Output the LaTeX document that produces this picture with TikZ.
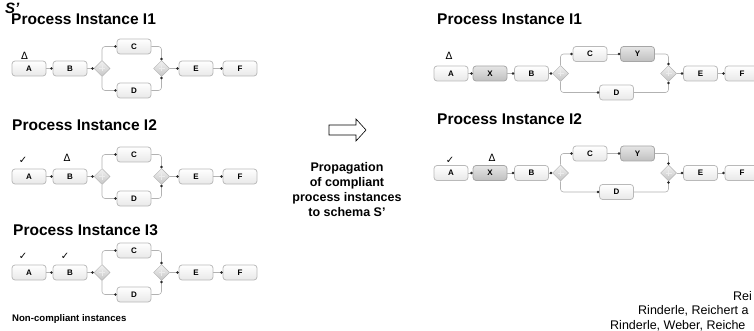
\documentclass[tikz,border=0pt]{standalone}
\usepackage{fontspec}
\setmainfont{Liberation Sans}
\newfontfamily\symfont{DejaVu Sans}
\usetikzlibrary{shapes.geometric,arrows.meta}
\tikzset{
  box/.style={draw=gray!55, rounded corners=3pt, minimum width=34pt, minimum height=15pt,
    inner sep=0pt, top color=white, bottom color=gray!18, line width=0.75pt,
    font=\bfseries\fontsize{8}{8}\selectfont},
  newbox/.style={box, top color=gray!20, bottom color=gray!50, draw=gray!70},
  gate/.style={diamond, draw=gray!60, minimum width=16pt, minimum height=16pt, inner sep=0pt,
    top color=gray!10, bottom color=gray!45, line width=0.5pt,
    path picture={\draw[gray!15, line width=0.9pt]
      ([xshift=-3pt]path picture bounding box.center) -- ([xshift=3pt]path picture bounding box.center)
      ([yshift=-3pt]path picture bounding box.center) -- ([yshift=3pt]path picture bounding box.center);}},
  conn/.style={draw=gray!60, line width=0.6pt, rounded corners=3pt,
    -{Circle[length=2.4pt, color=gray!30!black]}},
  title/.style={anchor=base west, inner sep=0pt, font=\bfseries\fontsize{15.5}{18}\selectfont},
  mk/.style={inner sep=0pt, font=\symfont\fontsize{10}{10}\selectfont},
  leftproc/.pic={
    \node[box] (-A) at (29,0) {A};
    \node[box] (-B) at (70,0) {B};
    \node[gate] (-S) at (102,0) {};
    \node[box] (-C) at (134,-22) {C};
    \node[box] (-D) at (134,22) {D};
    \node[gate] (-J) at (161.5,0) {};
    \node[box] (-E) at (196,0) {E};
    \node[box] (-F) at (240,0) {F};
    \draw[conn] (-A) -- (-B);
    \draw[conn] (-B) -- (-S);
    \draw[conn] (-S.north) |- (-C);
    \draw[conn] (-S.south) |- (-D);
    \draw[conn] (-C) -| (-J.north);
    \draw[conn] (-D) -| (-J.south);
    \draw[conn] (-J) -- (-E);
    \draw[conn] (-E) -- (-F);
  },
  rightproc/.pic={
    \node[box] (-A) at (451,0) {A};
    \node[newbox] (-X) at (490,0) {X};
    \node[box] (-B) at (531.5,0) {B};
    \node[gate] (-S) at (560.5,0) {};
    \node[box] (-C) at (590,-19.5) {C};
    \node[newbox] (-Y) at (637.5,-19.5) {Y};
    \node[box] (-D) at (616.5,19) {D};
    \node[gate] (-J) at (668.5,0) {};
    \node[box] (-E) at (700.5,0) {E};
    \node[box] (-F) at (742,0) {F};
    \draw[conn] (-A) -- (-X);
    \draw[conn] (-X) -- (-B);
    \draw[conn] (-B) -- (-S);
    \draw[conn] (-S.north) |- (-C);
    \draw[conn] (-C) -- (-Y);
    \draw[conn] (-S.south) |- (-D);
    \draw[conn] (-Y) -| (-J.north);
    \draw[conn] (-D) -| (-J.south);
    \draw[conn] (-J) -- (-E);
    \draw[conn] (-E) -- (-F);
  }
}
\begin{document}
\begin{tikzpicture}[x=1pt,y=-1pt]
\clip (0,0) rectangle (754,331);
\fill[white] (0,0) rectangle (754,331);

% left side
\node[title, font=\bfseries\itshape\fontsize{15}{18}\selectfont] (sprime) at (5,13.5) {S’};
\node[title] (tl1) at (11,25) {Process Instance I1};
\node[title] (tl2) at (12,131) {Process Instance I2};
\node[title] (tl3) at (13,235) {Process Instance I3};

\pic (l1) at (0,68.5) {leftproc};
\pic (l2) at (0,176.5) {leftproc};
\pic (l3) at (0,272.5) {leftproc};

\node[mk] (l1dA) at (24.5,56) {Δ};
\node[mk] (l2cA) at (23,160) {✓};
\node[mk] (l2dB) at (67,158) {Δ};
\node[mk] (l3cA) at (23,256) {✓};
\node[mk] (l3cB) at (65,256) {✓};

\node[title, font=\bfseries\fontsize{9.6}{12}\selectfont] (noncomp) at (12,321.5) {Non-compliant instances};

% middle
\draw[black, line width=0.6pt] (329,125) -- (356,125) -- (356,119) -- (366,130) -- (356,141)
  -- (356,135) -- (329,135) -- cycle;
\node[align=center, inner sep=0pt, font=\bfseries\fontsize{12.5}{15}\selectfont] (prop) at (347,189.5)
  {Propagation\\of compliant\\process instances\\to schema S’};

% right side
\node[title] (tr1) at (437,25) {Process Instance I1};
\node[title] (tr2) at (437,125) {Process Instance I2};

\pic (r1) at (0,73.5) {rightproc};
\pic (r2) at (0,173) {rightproc};

\node[mk] (r1dA) at (449,56) {Δ};
\node[mk] (r2cA) at (450,160) {✓};
\node[mk] (r2dX) at (492,158) {Δ};

% citations (cut off at the picture edge)
\node[anchor=base west, inner sep=0pt, font=\fontsize{12.5}{15}\selectfont] (cit1) at (733,300) {Rei};
\node[anchor=base west, inner sep=0pt, font=\fontsize{12.5}{15}\selectfont] (cit2) at (638,314.5) {Rinderle, Reichert a};
\node[anchor=base west, inner sep=0pt, font=\fontsize{12.5}{15}\selectfont] (cit3) at (610,329) {Rinderle, Weber, Reiche};
\end{tikzpicture}
\end{document}
